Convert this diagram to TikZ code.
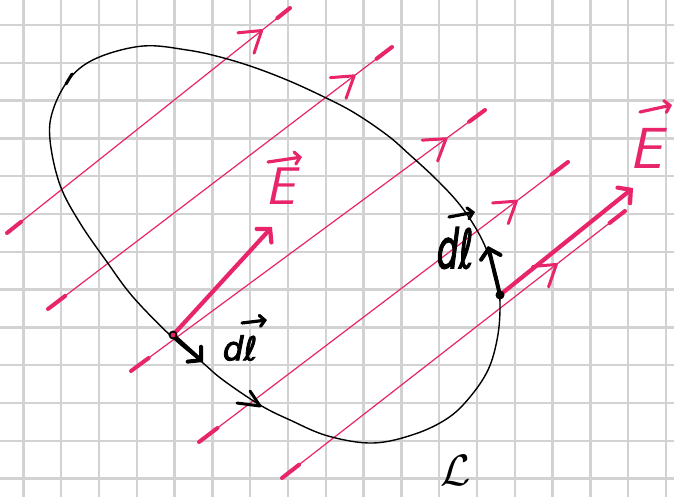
\documentclass[tikz,border=0pt]{standalone}
\usepackage{fontspec}
\newfontfamily\hand[FakeBold=2.5]{DejaVu Sans}
\usetikzlibrary{arrows.meta,decorations.markings,calc}
\definecolor{epink}{HTML}{E8246A}
\definecolor{gridc}{HTML}{D2D2D2}
\tikzset{
  gridline/.style={draw=gridc, line width=2.4pt},
  fline/.style={draw=epink, line width=1.2pt, postaction={decorate},
    decoration={markings, mark=at position #1 with {\draw[epink, line width=3pt, line cap=round, line join=round] (-20pt,13pt) -- (0pt,0pt) -- (-20pt,-13pt);}}},
  fend/.style={draw=epink, line width=4pt, line cap=round},
  loopline/.style={draw=black, line width=1.4pt},
  evec/.style={draw=epink, line width=4.2pt, line cap=round, -{Straight Barb[length=9pt,width=20pt,line cap=round]}},
  dvec/.style={draw=black, line width=4pt, line cap=round, -{Straight Barb[length=9pt,width=20pt,line cap=round]}},
  ebar/.style={draw=epink, line width=3.2pt, line cap=round, -{Straight Barb[length=5pt,width=12pt,line cap=round]}},
  dbar/.style={draw=black, line width=3.2pt, line cap=round, -{Straight Barb[length=5pt,width=11pt,line cap=round]}},
  elabel/.style={text=epink, inner sep=0pt},
  dlabel/.style={text=black, inner sep=0pt},
}
\begin{document}
\begin{tikzpicture}[x=1pt,y=-1pt]
\useasboundingbox (0,0) rectangle (674,497);
\fill[white] (0,0) rectangle (674,497);
\foreach \i in {0,...,17} \draw[gridline] ({23.3+37.8*\i},0) -- ({23.3+37.8*\i},497);
\foreach \j in {0,...,12} \draw[gridline] (0,{25+37.8*\j}) -- (674,{25+37.8*\j});

% field lines
\coordinate (a1) at (7,233);   \coordinate (b1) at (290,8);
\coordinate (a2) at (48,309);  \coordinate (b2) at (392,47);
\coordinate (a3) at (131,371); \coordinate (b3) at (485,110);
\coordinate (a4) at (199,442); \coordinate (b4) at (568,162);
\coordinate (a5) at (282,478); \coordinate (b5) at (625,211);
\draw[fline=0.9] (a1) -- (b1);
\draw[fline=0.89] (a2) -- (b2);
\draw[fline=0.89] (a3) -- (b3);
\draw[fline=0.86] (a4) -- (b4);
\draw[fline=0.8] (a5) -- (b5);
\foreach \k in {1,...,5}{
  \draw[fend] (a\k) -- ($(a\k)!0.05!(b\k)$);
  \draw[fend] (b\k) -- ($(b\k)!0.045!(a\k)$);
}

% loop
\draw[loopline] plot[smooth cycle, tension=0.6] coordinates {
 (172,337) (133,297) (107,262) (80,223) (60,185) (50,140) (53,110) (70,78) (97,58) (143,46)
 (187,50) (220,57) (253,67) (287,80) (320,95) (353,112) (387,135) (410,155) (437,180)
 (460,205) (478,232) (490,258) (498,282) (500,310) (497,340) (488,370) (470,397)
 (448,418) (415,434) (373,443) (328,436) (290,420) (260,405) (223,380) (203,363)};
\draw[black, line width=3pt, line cap=round] (66,84) -- (72,74);

% direction arrowhead on loop
\coordinate (t0) at (260,406);
\coordinate (t1) at (237,403);
\coordinate (t2) at (250,391);
\draw[black, line width=3pt, line cap=round, line join=round] (t1) -- (t0) -- (t2);

% vectors
\coordinate (p1) at (173,335); \coordinate (q1) at (272,227); \coordinate (r1) at (203,362);
\coordinate (p2) at (500,295); \coordinate (q2) at (633,188); \coordinate (r2) at (488,246);
\draw[evec] (p1) -- (q1);
\draw[evec] (p2) -- (q2);
\draw[dvec] (p1) -- (r1);
\draw[dvec] (p2) -- (r2);
\filldraw[fill=epink, draw=black, line width=1.8pt] (p1) circle (3.5);
\fill[black] (p2) circle (4.5);

% labels
\node[elabel] (E1) at (280,186) {\fontsize{53}{53}\selectfont\sffamily\itshape E};
\coordinate (e1s) at (268,162); \coordinate (e1t) at (302,157);
\draw[ebar] (e1s) -- (e1t);
\node[elabel] (E2) at (646,148) {\fontsize{58}{58}\selectfont\sffamily\itshape E};
\coordinate (e2s) at (640,112); \coordinate (e2t) at (672,105);
\draw[ebar] (e2s) -- (e2t);

\node[dlabel] (dl1) at (240,348) {\fontsize{33}{33}\selectfont\hand\itshape dℓ};
\coordinate (d1s) at (242,323); \coordinate (d1t) at (267,320);
\draw[dbar] (d1s) -- (d1t);
\node[dlabel, xscale=0.65] (dl2) at (455,248) {\fontsize{54}{54}\selectfont\hand\itshape dℓ};
\coordinate (d2s) at (449,217); \coordinate (d2t) at (475,212);
\draw[dbar] (d2s) -- (d2t);

\node[dlabel, scale=4.4] (L) at (456,470) {$\mathcal{L}$};
\end{tikzpicture}
\end{document}
